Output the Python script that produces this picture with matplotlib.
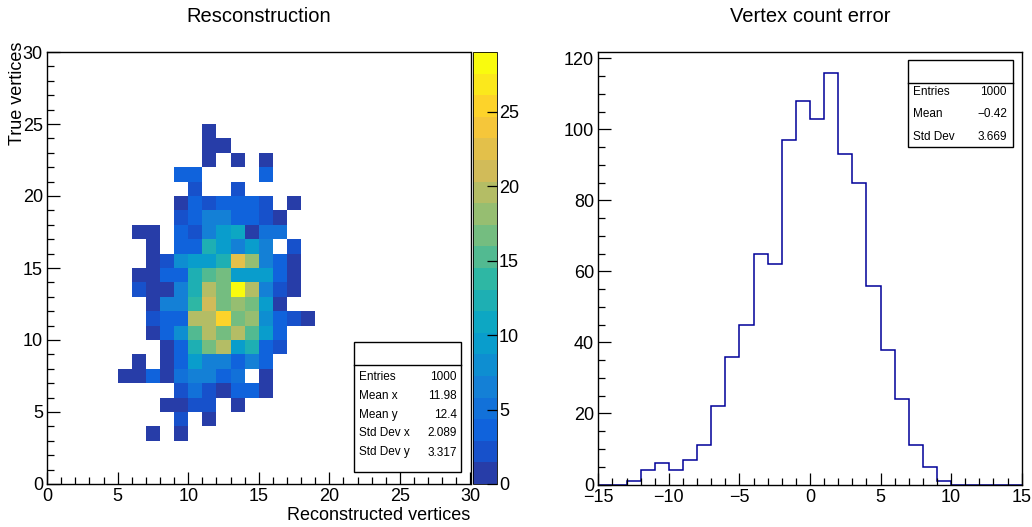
import numpy as np
import matplotlib
matplotlib.use("Agg")
import matplotlib.pyplot as plt
from matplotlib.colors import LinearSegmentedColormap, ListedColormap, BoundaryNorm
from matplotlib.patches import Rectangle
from matplotlib.lines import Line2D
from matplotlib.ticker import MultipleLocator

plt.rcParams['font.family'] = ['Liberation Sans', 'DejaVu Sans']

W, H = 1032, 527

# ---------------- data ----------------
# Reconstructed vs true vertex multiplicity, unit-width bins.
# Rows run from the lowest true-vertex bin upward, columns from the
# first reconstructed-vertex bin to the right.
reco_first_bin = 5
true_first_bin = 3
vertex_counts = [
    [0, 0, 1, 0, 1, 0, 0, 0, 0, 0, 0, 0, 0, 0],      # true 3
    [0, 0, 0, 0, 2, 0, 1, 0, 0, 0, 0, 0, 0, 0],      # true 4
    [0, 0, 0, 1, 1, 2, 2, 0, 1, 0, 0, 0, 0, 0],      # true 5
    [0, 0, 0, 0, 2, 5, 2, 1, 3, 3, 1, 0, 0, 0],      # true 6
    [1, 1, 3, 1, 5, 6, 7, 3, 5, 0, 1, 0, 0, 0],      # true 7
    [0, 1, 0, 1, 3, 10, 6, 7, 3, 7, 4, 0, 0, 0],     # true 8
    [0, 0, 0, 1, 3, 13, 17, 19, 10, 13, 3, 2, 0, 0], # true 9
    [0, 0, 1, 3, 8, 15, 20, 16, 20, 15, 10, 3, 0, 0],# true 10
    [0, 0, 2, 3, 3, 20, 20, 26, 17, 18, 8, 3, 2, 1], # true 11
    [0, 0, 1, 6, 7, 14, 21, 16, 18, 17, 10, 1, 0, 0],# true 12
    [0, 2, 1, 1, 7, 13, 20, 17, 29, 20, 7, 2, 1, 0], # true 13
    [0, 1, 1, 3, 3, 13, 15, 17, 10, 10, 10, 3, 1, 0],# true 14
    [0, 0, 1, 2, 8, 10, 10, 13, 22, 18, 6, 3, 1, 0], # true 15
    [0, 0, 1, 0, 3, 4, 13, 10, 7, 9, 7, 0, 2, 0],    # true 16
    [0, 1, 1, 0, 3, 2, 6, 10, 11, 1, 5, 5, 0, 0],    # true 17
    [0, 0, 0, 0, 2, 4, 6, 7, 3, 4, 2, 1, 0, 0],      # true 18
    [0, 0, 0, 0, 1, 3, 2, 3, 4, 4, 2, 0, 1, 0],      # true 19
    [0, 0, 0, 0, 0, 2, 0, 0, 2, 0, 0, 0, 0, 0],      # true 20
    [0, 0, 0, 0, 3, 3, 0, 0, 0, 0, 3, 0, 0, 0],      # true 21
    [0, 0, 0, 0, 0, 0, 1, 0, 1, 0, 1, 0, 0, 0],      # true 22
    [0, 0, 0, 0, 0, 0, 1, 1, 0, 0, 0, 0, 0, 0],      # true 23
    [0, 0, 0, 0, 0, 0, 1, 0, 0, 0, 0, 0, 0, 0],      # true 24
]
z_max = 29
n_levels = 20
reco_stat_names = ["Entries", "Mean x", "Mean y", "Std Dev x", "Std Dev y"]
reco_stat_values = ["1000", "11.98", "12.4", "2.089", "3.317"]

# Vertex count error (reconstructed - true), unit-width bins
error_first_bin = -13
error_counts = [1, 4, 6, 4, 7, 11, 22, 36, 45, 65, 62, 97, 108, 103, 116,
                93, 85, 56, 38, 24, 11, 5, 1]
error_stat_names = ["Entries", "Mean", "Std Dev"]
error_stat_values = ["1000", "\u22120.42", "3.669"]

# ---------------- palette (ROOT "bird") ----------------
bird_stops = [0.0, 0.125, 0.25, 0.375, 0.5, 0.625, 0.75, 0.875, 1.0]
bird_r = [0.2082, 0.0592, 0.0780, 0.0232, 0.1802, 0.5301, 0.8186, 0.9956, 0.9764]
bird_g = [0.1664, 0.3599, 0.5041, 0.6419, 0.7178, 0.7492, 0.7328, 0.7862, 0.9832]
bird_b = [0.5293, 0.8684, 0.8385, 0.7914, 0.6425, 0.4662, 0.3499, 0.1968, 0.0539]
bird = LinearSegmentedColormap.from_list(
    "bird", list(zip(bird_stops, zip(bird_r, bird_g, bird_b))), N=255)
level_colors = [bird(int((k + 0.99) * 255 / n_levels) / 254.0) for k in range(n_levels)]
level_cmap = ListedColormap(level_colors)
level_cmap.set_over(level_colors[-1])
level_norm = BoundaryNorm(np.linspace(0, z_max, n_levels + 1), n_levels)


def px_axes(x0, y0, x1, y1):
    return [x0 / W, 1 - y1 / H, (x1 - x0) / W, (y1 - y0) / H]


def fx(x):
    return x / W


def fy(y):
    return 1 - y / H


fig = plt.figure(figsize=(W / 100, H / 100), dpi=100)
fig.patch.set_facecolor("white")

LABEL_SIZE = 13
TICK_MAJOR = 9.0
TICK_MINOR = 5.0


def style_axes(ax):
    ax.tick_params(which="both", direction="in", top=False, right=False,
                   width=0.9, labelsize=LABEL_SIZE)
    ax.tick_params(which="major", length=TICK_MAJOR)
    ax.tick_params(which="minor", length=TICK_MINOR)
    ax.tick_params(axis="x", pad=3)
    ax.tick_params(axis="y", pad=3)
    for s in ax.spines.values():
        s.set_linewidth(1.0)


# ---------------- left: 2D histogram ----------------
ax1 = fig.add_axes(px_axes(47.1, 52, 470.5, 484))
counts = np.array(vertex_counts, dtype=float)
n_true, n_reco = counts.shape
x_edges = np.arange(reco_first_bin, reco_first_bin + n_reco + 1)
y_edges = np.arange(true_first_bin, true_first_bin + n_true + 1)
masked = np.ma.masked_where(counts <= 0, counts)
mesh = ax1.pcolormesh(x_edges, y_edges, masked, cmap=level_cmap, norm=level_norm,
                      antialiased=False, linewidth=0, edgecolors="face")
ax1.set_xlim(0, 30)
ax1.set_ylim(0, 30)
ax1.xaxis.set_major_locator(MultipleLocator(5))
ax1.xaxis.set_minor_locator(MultipleLocator(1))
ax1.yaxis.set_major_locator(MultipleLocator(5))
ax1.yaxis.set_minor_locator(MultipleLocator(1))
style_axes(ax1)

cax = fig.add_axes(px_axes(473, 52, 497, 484))
cb = fig.colorbar(mesh, cax=cax, ticks=np.arange(0, 26, 5))
cb.outline.set_linewidth(0.6)
cax.set_ylim(0, z_max)
cax.tick_params(direction="in", length=7.5, width=0.9, labelsize=LABEL_SIZE,
                right=True, left=False, pad=1.5)
cax.minorticks_off()

fig.text(fx(259), fy(16), "Resconstruction", ha="center", va="center", fontsize=14.5)
fig.text(fx(470), fy(516), "Reconstructed vertices", ha="right", va="center",
         fontsize=LABEL_SIZE)
fig.text(fx(18), fy(42), "True vertices", ha="center", va="top", rotation=90,
         fontsize=LABEL_SIZE)


def stats_box(x0, y0, x1, y1, sep_y, row_ys, names, values, lx, rx):
    fig.add_artist(Rectangle((fx(x0), fy(y1)), fx(x1) - fx(x0), fy(y0) - fy(y1),
                             transform=fig.transFigure, facecolor="white",
                             edgecolor="black", linewidth=1.0, zorder=10))
    fig.add_artist(Line2D([fx(x0), fx(x1)], [fy(sep_y), fy(sep_y)],
                          transform=fig.transFigure, color="black",
                          linewidth=1.0, zorder=11))
    for yy, name, val in zip(row_ys, names, values):
        fig.text(fx(lx), fy(yy), name, ha="left", va="center", fontsize=8.5, zorder=12)
        fig.text(fx(rx), fy(yy), val, ha="right", va="center", fontsize=8.5, zorder=12)


stats_box(354, 342, 461, 472, 365, [377, 396, 415, 433.5, 452.5],
          reco_stat_names, reco_stat_values, 359, 457)

# ---------------- right: 1D error histogram ----------------
ax2 = fig.add_axes(px_axes(598.3, 52, 1021.7, 484.5))
err_lo, err_hi = -15, 15
full = np.zeros(err_hi - err_lo)
start = error_first_bin - err_lo
full[start:start + len(error_counts)] = error_counts
ax2.stairs(full, np.arange(err_lo, err_hi + 1), color="#000099", linewidth=1.1)
ax2.set_xlim(err_lo, err_hi)
ax2.set_ylim(0, max(error_counts) * 1.05)
ax2.xaxis.set_major_locator(MultipleLocator(5))
ax2.xaxis.set_minor_locator(MultipleLocator(1))
ax2.yaxis.set_major_locator(MultipleLocator(20))
ax2.yaxis.set_minor_locator(MultipleLocator(5))
style_axes(ax2)

fig.text(fx(810), fy(16), "Vertex count error", ha="center", va="center", fontsize=14.5)
stats_box(908, 60, 1013, 147, 82.5, [92, 114, 136.5],
          error_stat_names, error_stat_values, 913, 1007)

fig.savefig("out.png", dpi=100, facecolor="white")
